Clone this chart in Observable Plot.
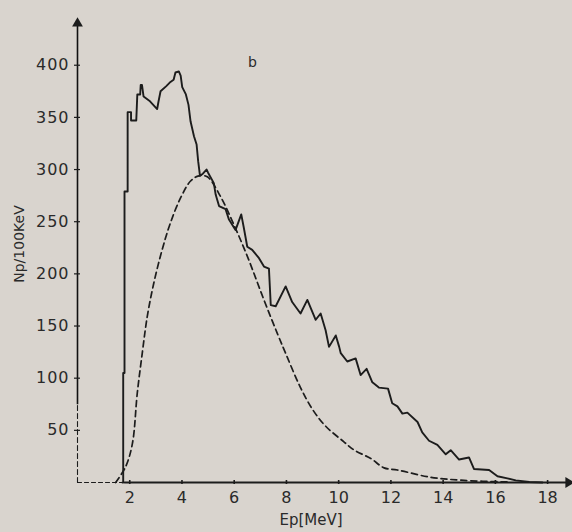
<!DOCTYPE html>
<html>
<head>
<meta charset="utf-8">
<script src="https://cdn.jsdelivr.net/npm/d3@7"></script>
<script src="https://cdn.jsdelivr.net/npm/@observablehq/plot@0.6"></script>
<style>
  html, body { margin: 0; padding: 0; background: #d9d4ce; }
  #chart { width: 572px; height: 532px; }
  #chart svg g[aria-label="y-axis tick label"] text { letter-spacing: 1px; }
</style>
</head>
<body>
<div id="chart"></div>
<script>
// Measured proton spectrum (histogram, 100 keV bins) — energy (MeV), counts
const energy = [1.72, 1.75, 1.75, 1.80, 1.80, 1.92, 1.92, 2.05, 2.05, 2.25, 2.29, 2.40, 2.42, 2.47, 2.53, 2.75, 3.05, 3.10, 3.18, 3.40, 3.56, 3.68, 3.75, 3.88, 3.95, 4.01, 4.15, 4.25, 4.33, 4.46, 4.56, 4.62, 4.69, 4.80, 4.94, 5.00, 5.22, 5.29, 5.42, 5.67, 5.80, 6.05, 6.27, 6.37, 6.50, 6.69, 6.95, 7.14, 7.33, 7.40, 7.59, 7.97, 8.22, 8.54, 8.80, 9.12, 9.31, 9.50, 9.63, 9.89, 10.02, 10.08, 10.33, 10.65, 10.84, 11.07, 11.29, 11.54, 11.89, 12.05, 12.25, 12.44, 12.63, 13.02, 13.20, 13.46, 13.78, 14.10, 14.29, 14.61, 14.99, 15.18, 15.76, 16.08, 16.46, 16.78, 17.30, 17.80];
const counts = [0, 0, 105, 105, 279, 279, 355, 355, 347, 347, 372, 372, 381, 381, 370, 366, 358, 365, 375, 380, 384, 386, 393, 394, 390, 379, 372, 362, 346, 332, 324, 308, 294, 296, 300, 297, 287, 276, 265, 262, 252, 242, 257, 244, 226, 223, 215, 207, 205, 170, 169, 188, 173, 162, 175, 156, 162, 146, 130, 141, 130, 124, 116, 119, 103, 109, 96, 91, 90, 76, 73, 66, 67, 58, 48, 40, 36, 27, 31, 22, 24, 13, 12, 6, 4, 2, 0.5, 0];

// Calculated spectrum (dashed curve)
const fitEnergy = [1.46, 1.84, 2.10, 2.29, 2.48, 2.67, 2.92, 3.24, 3.56, 3.95, 4.33, 4.65, 4.97, 5.48, 5.99, 6.50, 7.14, 7.65, 8.00, 8.52, 9.00, 9.50, 10.20, 10.60, 11.23, 11.74, 12.25, 13.52, 14.80, 16.50];
const fitCounts = [0, 15, 37, 86, 124, 159, 191, 223, 249, 273, 289, 294, 293, 274, 247, 217, 175, 143, 122, 92, 70, 54, 39, 31, 23, 14, 12, 5, 2, 0.5];

const xTicks = [2, 4, 6, 8, 10, 12, 14, 16, 18];
const yTicks = [50, 100, 150, 200, 250, 300, 350, 400];
const xLabel = "Ep[MeV]";
const yLabel = "Np/100KeV";
const panelLabel = "b";

// axis extents (MeV / counts)
const xMax = 18.8, yMax = 440;
const xSolidFrom = 1.8, ySolidFrom = 75;

const hist = energy.map((e, i) => ({e, n: counts[i]}));
const fit = fitEnergy.map((e, i) => ({e, n: fitCounts[i]}));
const xAxisSolid = [{x: xSolidFrom, y: 0}, {x: xMax, y: 0}];
const xAxisDashed = [{x: 0, y: 0}, {x: xSolidFrom, y: 0}];
const yAxisSolid = [{x1: 0, x2: 0, y1: ySolidFrom, y2: yMax}];
const yAxisDashed = [{x: 0, y: 0}, {x: 0, y: ySolidFrom}];

const ink = "#1c1c1c";
const font = "'DejaVu Sans', sans-serif";

const chart = Plot.plot({
  width: 572,
  height: 532,
  marginLeft: 77,
  marginRight: 4,
  marginTop: 23,
  marginBottom: 50,
  style: {background: "#d9d4ce", color: ink, fontFamily: font, fontSize: "15px"},
  x: {domain: [0, xMax]},
  y: {domain: [0, yMax]},
  marks: [
    // axis lines
    Plot.line(xAxisSolid, {x: "x", y: "y", stroke: ink, strokeWidth: 1.8}),
    Plot.line(xAxisDashed, {x: "x", y: "y", stroke: ink, strokeWidth: 1.2, strokeDasharray: "4,3"}),
    Plot.link(yAxisSolid, {x1: "x1", x2: "x2", y1: "y1", y2: "y2", stroke: "#111", strokeWidth: 1.6}),
    Plot.line(yAxisDashed, {x: "x", y: "y", stroke: ink, strokeWidth: 1.1, strokeDasharray: "5,3"}),
    Plot.dot([{x: xMax, y: 0}], {x: "x", y: "y", symbol: "triangle", r: 4, fill: ink, stroke: "none", rotate: 90}),
    Plot.dot([{x: 0, y: yMax}], {x: "x", y: "y", symbol: "triangle", r: 4, fill: ink, stroke: "none"}),
    // ticks
    Plot.ruleY(yTicks, {x1: 0, x2: 0, insetLeft: -3, insetRight: -3, stroke: ink, strokeWidth: 1.2}),
    Plot.ruleX(xTicks, {y1: 0, y2: 0, insetTop: -2, insetBottom: -2, stroke: ink, strokeWidth: 1.6}),
    Plot.axisY(yTicks, {tickSize: 0, tickPadding: 8, label: null, fill: "#2a2a2a", fontSize: 16}),
    Plot.axisX(xTicks, {tickSize: 0, tickPadding: 9, label: null, fill: "#2a2a2a", fontSize: 16}),
    // data
    Plot.line(fit, {x: "e", y: "n", stroke: ink, strokeWidth: 1.7, strokeDasharray: "6,4", curve: "catmull-rom"}),
    Plot.line(hist, {x: "e", y: "n", stroke: ink, strokeWidth: 1.9, strokeLinejoin: "round"}),
    // labels
    Plot.text([xLabel], {frameAnchor: "bottom", textAnchor: "middle", lineAnchor: "middle", dx: -12, dy: 38, fontSize: 15, fill: "#2a2a2a"}),
    Plot.text([yLabel], {frameAnchor: "left", textAnchor: "middle", lineAnchor: "middle", rotate: -90, dx: -58, dy: -9, fontSize: 14, fill: "#2a2a2a"}),
    Plot.text([panelLabel], {frameAnchor: "top-left", textAnchor: "middle", lineAnchor: "middle", dx: 175, dy: 39, fontSize: 14, fill: "#2a2a2a"})
  ]
});
document.getElementById("chart").appendChild(chart);
</script>
</body>
</html>
